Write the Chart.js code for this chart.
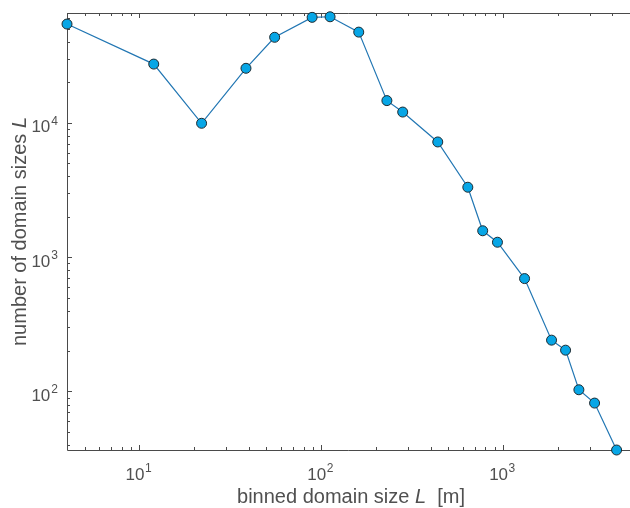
<!DOCTYPE html>
<html>
<head>
<meta charset="utf-8">
<script src="https://cdn.jsdelivr.net/npm/chart.js@4"></script>
<style>
  html, body { margin: 0; padding: 0; background: #fff; }
  canvas { display: block; }
</style>
</head>
<body>
<canvas id="c" width="630" height="508"></canvas>
<script>
// binned domain size L [m]
const domainSize = [4, 12, 22, 38.6, 55.5, 89.2, 112, 161, 230, 281, 438, 641, 774, 933,
                    1315, 1851, 2211, 2617, 3192, 4219];
// number of domain sizes per bin
const domainCount = [54200, 27300, 9900, 25400, 43200, 60800, 61400, 47200, 14600, 12000,
                     7190, 3310, 1570, 1290, 692, 241, 203, 103, 82, 36.7];
// axis limits and labelled decades
const xLimits = [4, 5000];
const yLimits = [36.7, 65500];
const xDecades = [1, 2, 3];
const yDecades = [2, 3, 4];

const FONT = '"Liberation Sans", Arial, Helvetica, sans-serif';
const AXIS_COLOR = '#4a4a4a';
const TEXT_COLOR = '#505050';

// Frame, inward ticks and 10^n labels, drawn from the chart's own log scales
const logAxes = {
  id: 'logAxes',
  beforeDatasetsDraw(chart) {
    const { ctx, chartArea: a, scales: { x, y } } = chart;
    ctx.save();
    ctx.strokeStyle = AXIS_COLOR;
    ctx.lineWidth = 1;
    ctx.beginPath();
    ctx.moveTo(a.left + 0.5, a.top + 0.5);
    ctx.lineTo(a.right, a.top + 0.5);
    ctx.moveTo(a.left + 0.5, a.top);
    ctx.lineTo(a.left + 0.5, a.bottom + 0.5);
    ctx.lineTo(a.right, a.bottom + 0.5);
    ctx.stroke();

    const minorLen = 3, majorLen = 5;
    ctx.beginPath();
    for (let e = -1; e <= 5; e++) {
      for (let m = 1; m <= 9; m++) {
        const v = m * Math.pow(10, e);
        const len = m === 1 ? majorLen : minorLen;
        if (v >= xLimits[0] && v <= xLimits[1]) {
          const px = Math.round(x.getPixelForValue(v)) + 0.5;
          ctx.moveTo(px, a.bottom); ctx.lineTo(px, a.bottom - len);
          ctx.moveTo(px, a.top); ctx.lineTo(px, a.top + len);
        }
        if (v >= yLimits[0] && v <= yLimits[1]) {
          const py = Math.round(y.getPixelForValue(v)) + 0.5;
          ctx.moveTo(a.left, py); ctx.lineTo(a.left + len, py);
        }
      }
    }
    ctx.stroke();
    ctx.restore();
  },
  afterDraw(chart) {
    const { ctx, chartArea: a, scales: { x, y } } = chart;
    ctx.save();
    ctx.fillStyle = TEXT_COLOR;
    ctx.textBaseline = 'alphabetic';
    const baseFont = '17px ' + FONT;
    const supFont = '12px ' + FONT;

    // x tick labels
    xDecades.forEach(e => {
      const px = x.getPixelForValue(Math.pow(10, e));
      ctx.font = baseFont;
      const w1 = ctx.measureText('10').width;
      ctx.font = supFont;
      const w2 = ctx.measureText(String(e)).width;
      const left = px - (w1 + w2) / 2 - 1;
      ctx.font = baseFont;
      ctx.textAlign = 'left';
      ctx.fillText('10', left, a.bottom + 30);
      ctx.font = supFont;
      ctx.fillText(String(e), left + w1 + 0.5, a.bottom + 21.5);
    });

    // y tick labels
    yDecades.forEach(e => {
      const py = y.getPixelForValue(Math.pow(10, e));
      ctx.font = supFont;
      const w2 = ctx.measureText(String(e)).width;
      ctx.font = baseFont;
      const w1 = ctx.measureText('10').width;
      const right = a.left - 9;
      ctx.textAlign = 'left';
      ctx.fillText('10', right - w2 - w1 - 1, py + 9.5);
      ctx.font = supFont;
      ctx.fillText(String(e), right - w2, py + 2);
    });

    // axis titles with italic L
    const titleFont = '20px ' + FONT;
    const italFont = 'italic 20px ' + FONT;
    function drawTitle(parts, cx, cy, rot) {
      ctx.save();
      ctx.translate(cx, cy);
      ctx.rotate(rot);
      let total = 0;
      parts.forEach(p => { ctx.font = p[1] ? italFont : titleFont; total += ctx.measureText(p[0]).width; });
      let xx = -total / 2;
      ctx.textAlign = 'left';
      ctx.textBaseline = 'middle';
      parts.forEach(p => {
        ctx.font = p[1] ? italFont : titleFont;
        ctx.fillText(p[0], xx, 0);
        xx += ctx.measureText(p[0]).width;
      });
      ctx.restore();
    }
    drawTitle([['binned domain size ', false], ['L', true], ['  [m]', false]],
              351, a.bottom + 47, 0);
    drawTitle([['number of domain sizes ', false], ['L', true]],
              20, (a.top + a.bottom) / 2, -Math.PI / 2);
    ctx.restore();
  }
};

new Chart(document.getElementById('c'), {
  type: 'scatter',
  data: {
    datasets: [{
      data: domainSize.map((v, i) => ({ x: v, y: domainCount[i] })),
      showLine: true,
      borderColor: '#2176b3',
      borderWidth: 1.2,
      pointRadius: 5,
      pointHoverRadius: 5,
      pointBackgroundColor: '#07a6e6',
      pointBorderColor: '#1e2a30',
      pointBorderWidth: 1,
      clip: false
    }]
  },
  options: {
    responsive: false,
    animation: false,
    events: [],
    layout: { autoPadding: false, padding: { left: 67, top: 13, right: 0, bottom: 58 } },
    plugins: { legend: { display: false }, tooltip: { enabled: false } },
    scales: {
      x: { type: 'logarithmic', min: xLimits[0], max: xLimits[1], display: false },
      y: { type: 'logarithmic', min: yLimits[0], max: yLimits[1], display: false }
    }
  },
  plugins: [logAxes]
});
</script>
</body>
</html>
